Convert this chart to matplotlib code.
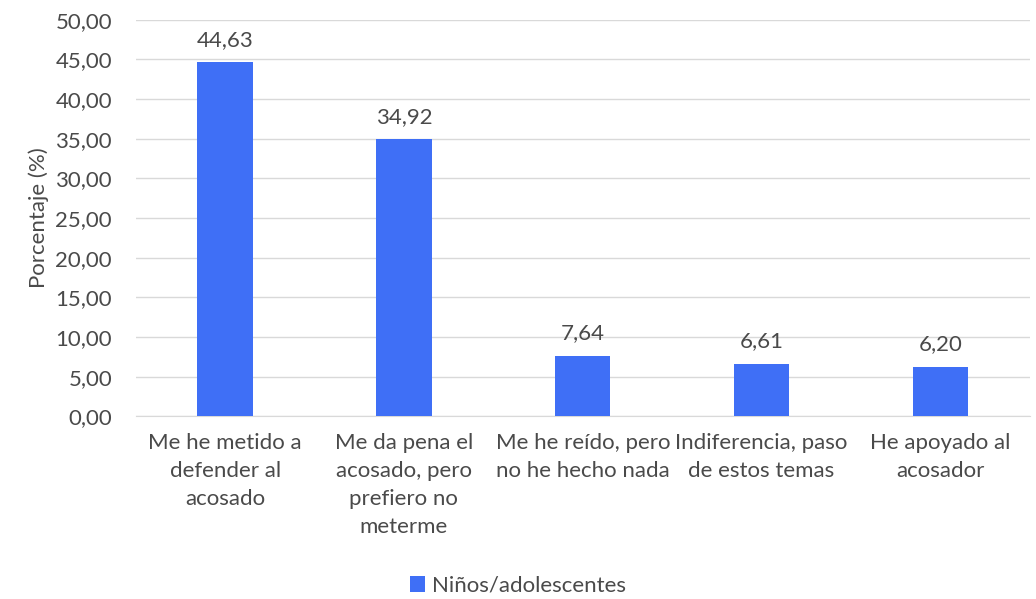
import matplotlib.pyplot as plt
import numpy as np

# datos
categorias = ["Me he metido a\ndefender al\nacosado",
              "Me da pena el\nacosado, pero\nprefiero no\nmeterme",
              "Me he reído, pero\nno he hecho nada",
              "Indiferencia, paso\nde estos temas",
              "He apoyado al\nacosador"]
valores = [44.63, 34.92, 7.64, 6.61, 6.20]
etiquetas = ["44,63", "34,92", "7,64", "6,61", "6,20"]
yticks = np.arange(0, 55, 5)

plt.rcParams['font.family'] = ['Lato', 'DejaVu Sans']
gris = "#4a4a4a"
azul = "#3F6FF6"

fig = plt.figure(figsize=(10.36, 5.99), dpi=100)
ax = fig.add_axes([0.131, 0.305, 0.863, 0.662])

x = np.arange(len(categorias))
barras = ax.bar(x, valores, width=0.31, color=azul, label="Niños/adolescentes", zorder=3)
for xi, v, t in zip(x, valores, etiquetas):
    ax.text(xi, v + 1.6, t, ha="center", va="bottom", fontsize=16, color=gris)

ax.set_xlim(-0.5, len(categorias) - 0.5)
ax.set_ylim(0, 50)
ax.set_yticks(yticks)
ax.set_yticklabels([("%.2f" % t).replace(".", ",") for t in yticks])
ax.set_xticks(x)
ax.set_xticklabels(categorias, fontsize=16, color=gris, linespacing=1.5)
ax.tick_params(axis="y", labelsize=16, labelcolor=gris, length=0, pad=17)
ax.tick_params(axis="x", length=0, pad=12)
ax.grid(axis="y", color="#D9D9D9", linewidth=1, zorder=0)
for s in ["top", "right", "left"]:
    ax.spines[s].set_visible(False)
ax.spines["bottom"].set_color("#D9D9D9")
ax.set_ylabel("Porcentaje (%)", fontsize=16, color=gris, labelpad=5)

fig.legend(handles=[barras], labels=["Niños/adolescentes"], loc="center",
           bbox_to_anchor=(0.5, 0.022), frameon=False, fontsize=16,
           handlelength=0.7, handleheight=0.7, handletextpad=0.3,
           labelcolor=gris)

fig.savefig("out.png", dpi=100)
